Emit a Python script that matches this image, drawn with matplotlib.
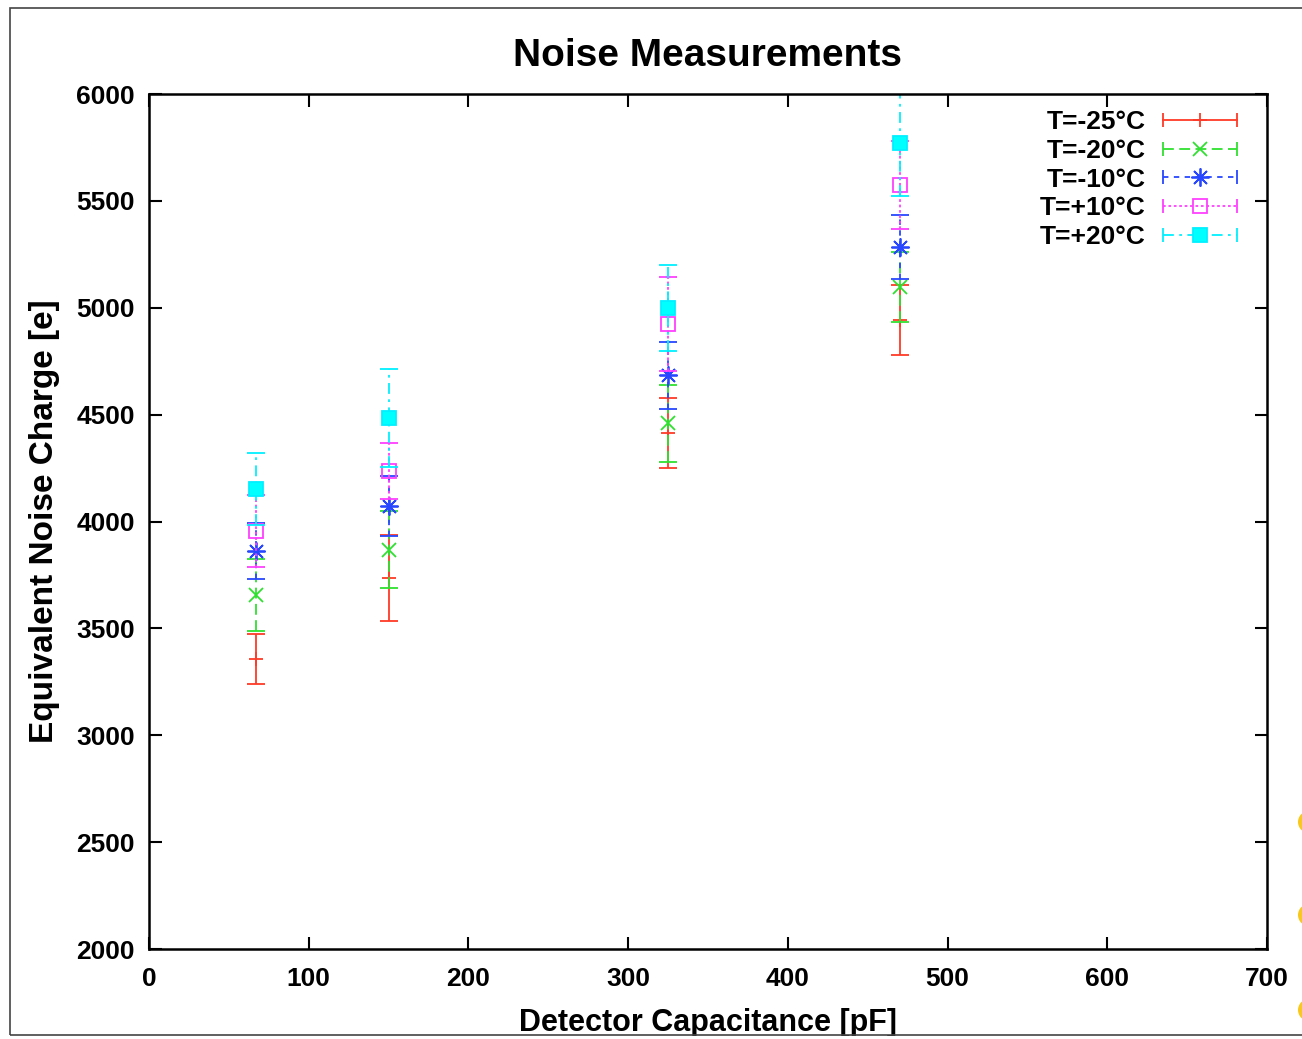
import numpy as np
import matplotlib
matplotlib.use("Agg")
import matplotlib.pyplot as plt
from matplotlib.lines import Line2D
from matplotlib.legend_handler import HandlerBase
from matplotlib.patches import Rectangle, Ellipse

plt.rcParams['font.family'] = ['Liberation Sans', 'DejaVu Sans']
plt.rcParams['font.weight'] = 'bold'
plt.rcParams['axes.labelweight'] = 'bold'
plt.rcParams['axes.titleweight'] = 'bold'

# detector capacitance [pF]
cap = [67, 150, 325, 470]

# ENC and errors per temperature
labels = ['T=-25°C', 'T=-20°C', 'T=-10°C', 'T=+10°C', 'T=+20°C']
enc_m25 = [3357, 3735, 4415, 4943]
err_m25 = [117, 200, 165, 165]
enc_m20 = [3656, 3867, 4460, 5097]
err_m20 = [170, 180, 180, 165]
enc_m10 = [3862, 4073, 4685, 5284]
err_m10 = [133, 140, 157, 150]
enc_p10 = [3956, 4236, 4924, 5574]
err_p10 = [169, 131, 220, 205]
enc_p20 = [4152, 4484, 5000, 5771]
err_p20 = [170, 229, 200, 250]

series = [(enc_m25, err_m25), (enc_m20, err_m20), (enc_m10, err_m10),
          (enc_p10, err_p10), (enc_p20, err_p20)]
colors = ['#ff3a28', '#30e030', '#2848ff', '#ff40ff', '#00f0ff']
styles = ['-', (0, (6, 3)), (0, (3, 3)), (0, (1.5, 1.5)), (0, (6, 3, 1.5, 3))]
markers = ['+', 'x', (8, 2, 0), 's', 's']
msizes = [10, 10, 13, 9.5, 9.5]
mfcs = [None, None, None, 'none', '#00ffff']


class GnuHandler(HandlerBase):
    # gnuplot-like key sample: line with end caps and marker in the middle
    def create_artists(self, legend, orig, xd, yd, w, h, fs, trans):
        y = h / 2 - yd
        x0, x1 = -xd, -xd + w
        c = orig.get_color()
        ln = Line2D([x0, x1], [y, y])
        ln.update_from(orig)
        ln.set_marker('None')
        ln.set_linewidth(1.3)
        caps = Line2D([x0, x1], [y, y], ls='none', marker='|', ms=10, mec=c, mew=1.3)
        mk = Line2D([(x0 + x1) / 2], [y], ls='none', marker=orig.get_marker(),
                    ms=orig.get_markersize(), mec=c, mfc=orig.get_markerfacecolor(),
                    mew=1.3)
        for a in (ln, caps, mk):
            a.set_transform(trans)
        return [ln, caps, mk]


fig = plt.figure(figsize=(13.02, 10.39), dpi=100)
ax = fig.add_axes([0.1144, 0.0866, 0.8587, 0.8229])

handles = []
for (y, e), c, ls, m, ms, fc in zip(series, colors, styles, markers, msizes, mfcs):
    eb = ax.errorbar(cap, y, yerr=e, fmt='none', ecolor=c, elinewidth=1.3,
                     capsize=6.5, capthick=1.3)
    eb[2][0].set_linestyle(ls)
    kw = dict(mfc=fc) if fc is not None else {}
    ax.plot(cap, y, ls='none', marker=m, ms=ms, mec=c, mew=1.3, color=c, **kw)
    handles.append(Line2D([], [], color=c, ls=ls, marker=m, ms=ms,
                          mfc=fc if fc is not None else c))

ax.set_xlim(0, 700)
ax.set_ylim(2000, 6000)
ax.set_xticks(range(0, 701, 100))
ax.set_yticks(range(2000, 6001, 500))
ax.tick_params(direction='in', top=True, right=True, length=9, width=1.5,
               labelsize=19, pad=10)
ax.tick_params(axis='x', pad=13)
for s in ax.spines.values():
    s.set_linewidth(1.8)

ax.set_title('Noise Measurements', fontsize=28, pad=20)
ax.set_xlabel('Detector Capacitance [pF]', fontsize=22, labelpad=12)
ax.set_ylabel('Equivalent Noise Charge [e]', fontsize=24, labelpad=12)

ax.legend(handles, labels, handler_map={Line2D: GnuHandler()}, loc='upper right',
          bbox_to_anchor=(0.9732, 0.9812), borderaxespad=0, borderpad=0,
          frameon=False, markerfirst=False, fontsize=19, handlelength=2.8,
          handletextpad=0.65, labelspacing=0.18)

# outer frame, bottom strip and the yellow dots at the right edge
fig.patches.append(Rectangle((10 / 1302, 4 / 1039), 1.0, 1027 / 1039,
                             transform=fig.transFigure, fill=False,
                             ec='#444444', lw=1.2, zorder=10))
fig.patches.append(Rectangle((0, 0), 1, 3.5 / 1039, transform=fig.transFigure,
                             fc='white', ec='none', zorder=11))
for py in (822, 915, 1010):
    fig.patches.append(Ellipse((1309 / 1302, 1 - py / 1039), 22 / 1302, 22 / 1039,
                               transform=fig.transFigure, fc='#f8c81c',
                               ec='none', zorder=12))

fig.savefig('out.png', dpi=100)
